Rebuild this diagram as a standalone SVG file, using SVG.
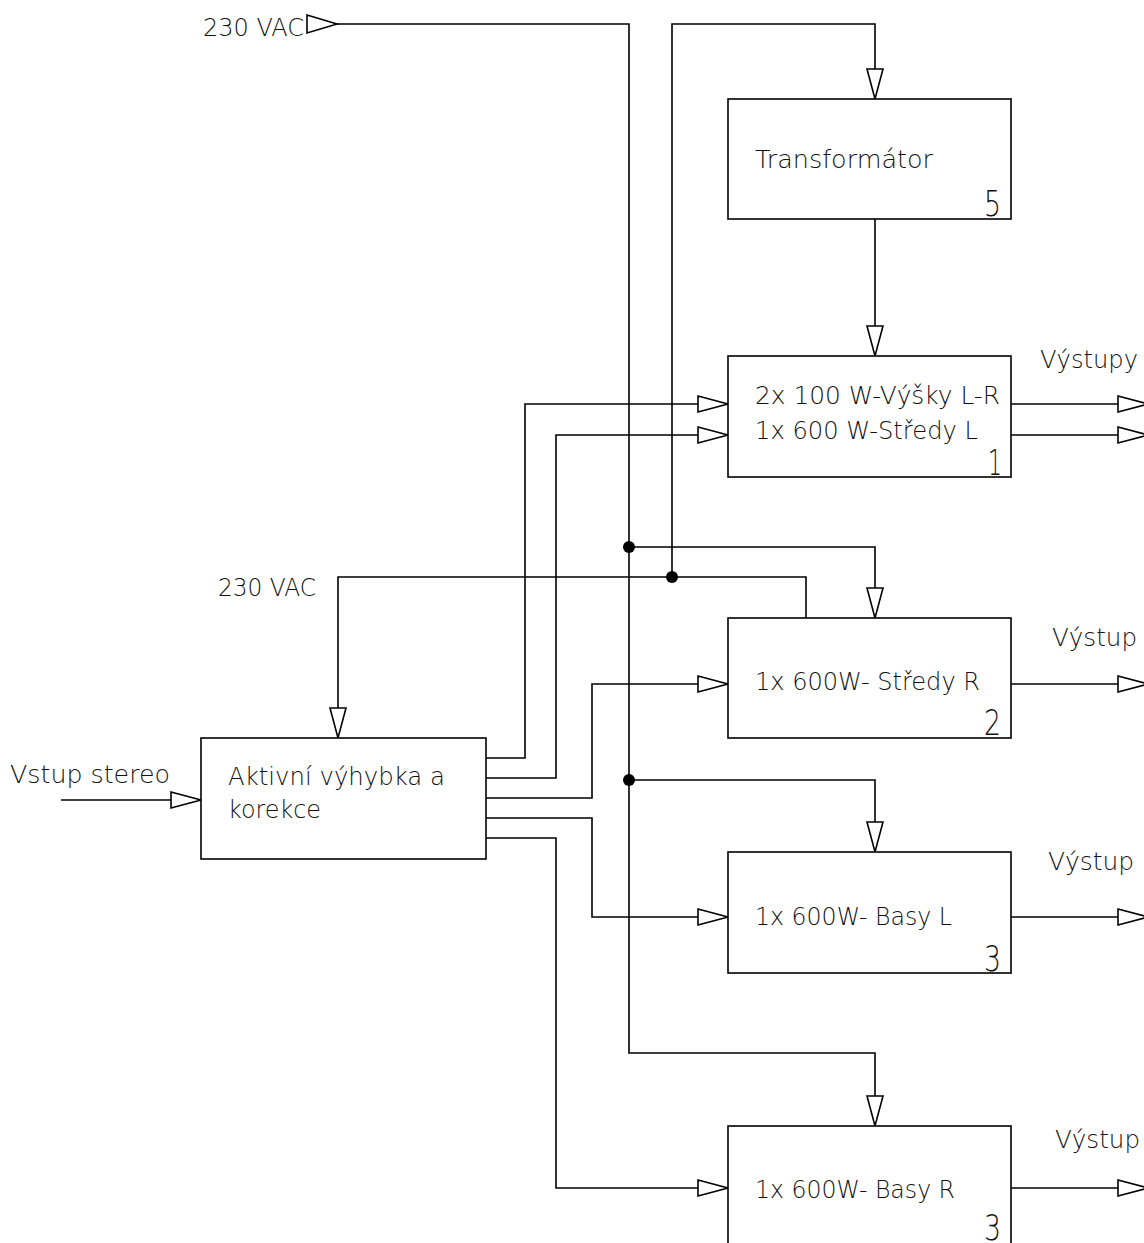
<svg xmlns="http://www.w3.org/2000/svg" width="1144" height="1243" viewBox="0 0 1144 1243">
<style>
.box{fill:#fff;stroke:#000;stroke-width:1.6}
.ln{fill:none;stroke:#000;stroke-width:1.6}
.t{font-family:"DejaVu Sans","Liberation Sans",sans-serif;font-weight:200;font-size:25px;fill:#111}
.n{font-family:"DejaVu Sans","Liberation Sans",sans-serif;font-weight:200;font-size:35px;fill:#111}
</style>
<defs>
<marker id="ar" viewBox="0 0 31 18" refX="31" refY="9" markerWidth="31" markerHeight="18" markerUnits="userSpaceOnUse" orient="auto" overflow="visible">
<path d="M1,1 L31,9 L1,17 Z" fill="#fff" stroke="#000" stroke-width="1.6"/>
</marker>
</defs>
<rect width="1144" height="1243" fill="#fff"/>
<g id="connectors">
<path class="ln" d="M337,24 H629 V1053 H875 V1126" marker-end="url(#ar)"/>
<polygon points="307,15 337,24 307,33" fill="#fff" stroke="#000" stroke-width="1.6"/>
<path class="ln" d="M629,547 H875 V618" marker-end="url(#ar)"/>
<path class="ln" d="M629,780 H875 V852" marker-end="url(#ar)"/>
<path class="ln" d="M672,577 V24 H875 V99" marker-end="url(#ar)"/>
<path class="ln" d="M875,219 V356" marker-end="url(#ar)"/>
<path class="ln" d="M806,618 V577 H338 V738" marker-end="url(#ar)"/>
<path class="ln" d="M486,758 H525 V404 H728" marker-end="url(#ar)"/>
<path class="ln" d="M486,778 H556 V435 H728" marker-end="url(#ar)"/>
<path class="ln" d="M486,798 H592 V684 H728" marker-end="url(#ar)"/>
<path class="ln" d="M486,818 H592 V917 H728" marker-end="url(#ar)"/>
<path class="ln" d="M486,838 H556 V1188 H728" marker-end="url(#ar)"/>
<path class="ln" d="M61,800 H201" marker-end="url(#ar)"/>
<path class="ln" d="M1011,404 H1148" marker-end="url(#ar)"/>
<path class="ln" d="M1011,435 H1148" marker-end="url(#ar)"/>
<path class="ln" d="M1011,684 H1148" marker-end="url(#ar)"/>
<path class="ln" d="M1011,917 H1148" marker-end="url(#ar)"/>
<path class="ln" d="M1011,1188 H1148" marker-end="url(#ar)"/>
<circle cx="629" cy="547" r="6" fill="#000"/>
<circle cx="672" cy="577" r="6" fill="#000"/>
<circle cx="629" cy="780" r="6" fill="#000"/>
</g>
<g id="labels">
<text class="t" x="203" y="36" textLength="101" lengthAdjust="spacingAndGlyphs">230 VAC</text>
<text class="t" x="218" y="596" textLength="98" lengthAdjust="spacingAndGlyphs">230 VAC</text>
<text class="t" x="10" y="783" textLength="160" lengthAdjust="spacingAndGlyphs">Vstup stereo</text>
<text class="t" x="1040" y="368" textLength="98" lengthAdjust="spacingAndGlyphs">Výstupy</text>
<text class="t" x="1052" y="646" textLength="85" lengthAdjust="spacingAndGlyphs">Výstup</text>
<text class="t" x="1048" y="870" textLength="86" lengthAdjust="spacingAndGlyphs">Výstup</text>
<text class="t" x="1055" y="1148" textLength="85" lengthAdjust="spacingAndGlyphs">Výstup</text>
</g>
<g id="transformator">
<rect class="box" x="728" y="99" width="283" height="120"/>
<text class="t" x="755" y="168" textLength="178" lengthAdjust="spacingAndGlyphs">Transformátor</text>
<text class="n" x="984" y="216" textLength="17" lengthAdjust="spacingAndGlyphs">5</text>
</g>
<g id="zesilovac1">
<rect class="box" x="728" y="356" width="283" height="121"/>
<text class="t" x="755" y="404" textLength="245" lengthAdjust="spacingAndGlyphs">2x 100 W-Výšky L-R</text>
<text class="t" x="755" y="439" textLength="223" lengthAdjust="spacingAndGlyphs">1x 600 W-Středy L</text>
<text class="n" x="988" y="475" textLength="14" lengthAdjust="spacingAndGlyphs">1</text>
</g>
<g id="zesilovac2">
<rect class="box" x="728" y="618" width="283" height="120"/>
<text class="t" x="755" y="690" textLength="225" lengthAdjust="spacingAndGlyphs">1x 600W- Středy R</text>
<text class="n" x="984" y="735" textLength="17" lengthAdjust="spacingAndGlyphs">2</text>
</g>
<g id="zesilovac3">
<rect class="box" x="728" y="852" width="283" height="121"/>
<text class="t" x="755" y="925" textLength="197" lengthAdjust="spacingAndGlyphs">1x 600W- Basy L</text>
<text class="n" x="984" y="971" textLength="17" lengthAdjust="spacingAndGlyphs">3</text>
</g>
<g id="zesilovac4">
<rect class="box" x="728" y="1126" width="283" height="125"/>
<text class="t" x="755" y="1198" textLength="200" lengthAdjust="spacingAndGlyphs">1x 600W- Basy R</text>
<text class="n" x="984" y="1240" font-size="32" textLength="17" lengthAdjust="spacingAndGlyphs">3</text>
</g>
<g id="vyhybka">
<rect class="box" x="201" y="738" width="285" height="121"/>
<text class="t" x="228" y="785" textLength="217" lengthAdjust="spacingAndGlyphs">Aktivní výhybka a</text>
<text class="t" x="228" y="818" textLength="93" lengthAdjust="spacingAndGlyphs">korekce</text>
</g>
</svg>
